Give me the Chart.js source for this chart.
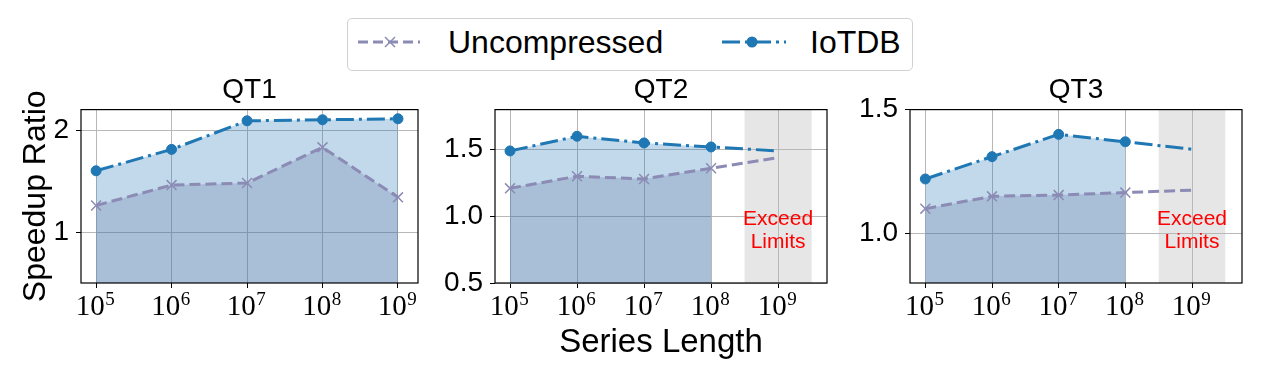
<!DOCTYPE html>
<html>
<head>
<meta charset="utf-8">
<script src="https://cdn.jsdelivr.net/npm/chart.js@4.4.0/dist/chart.umd.min.js"></script>
<style>
html,body{margin:0;padding:0;background:#fff;}
#wrap{position:relative;width:1269px;height:367px;overflow:hidden;font-family:'Liberation Sans',Arial,Helvetica,sans-serif;}
#wrap canvas{position:absolute;top:70px;}
#legend{position:absolute;left:347px;top:18px;width:564px;height:51px;border:1px solid #d2d2d2;border-radius:5px;background:#fff;}
.lt{position:absolute;top:7px;font-size:32px;line-height:32px;color:#000;white-space:nowrap;}
#sw{position:absolute;left:0;top:0;pointer-events:none;}
</style>
</head>
<body>
<div id="wrap">
  <div id="legend">
    <span class="lt" style="left:100px">Uncompressed</span>
    <span class="lt" style="left:462px">IoTDB</span>
  </div>
  <svg id="sw" width="1269" height="80">
    <line x1="358" y1="42" x2="420" y2="42" stroke="#8b8bb5" stroke-width="3" stroke-dasharray="10 5"/>
    <line x1="385" y1="37" x2="395" y2="47" stroke="#8b8bb5" stroke-width="1.5"/>
    <line x1="385" y1="47" x2="395" y2="37" stroke="#8b8bb5" stroke-width="1.5"/>
    <line x1="722" y1="42" x2="786" y2="42" stroke="#1f77b4" stroke-width="3" stroke-dasharray="18 5 3 5"/>
    <circle cx="752" cy="42" r="5.5" fill="#1f77b4"/>
  </svg>
  <canvas id="c1" width="440" height="297" style="left:0px"></canvas>
  <canvas id="c2" width="417" height="297" style="left:425px"></canvas>
  <canvas id="c3" width="429" height="297" style="left:840px"></canvas>
</div>
<script>
// ---- data ----
const xExponents = [5, 6, 7, 8, 9];           // series length = 10^n
const panelTitles = ['QT1', 'QT2', 'QT3'];
const iotdbQT1 = [1.60, 1.81, 2.09, 2.10, 2.11];
const uncompressedQT1 = [1.26, 1.46, 1.48, 1.83, 1.34];
const iotdbQT2 = [1.49, 1.60, 1.55, 1.52, 1.49];
const uncompressedQT2 = [1.21, 1.30, 1.28, 1.36, 1.44];
const iotdbQT3 = [1.22, 1.31, 1.40, 1.37, 1.34];
const uncompressedQT3 = [1.10, 1.15, 1.155, 1.165, 1.175];
const measuredCount = [5, 4, 4];              // points with markers / shaded area
const yTicksQT1 = [1, 2];
const yTicksQT2 = [0.5, 1.0, 1.5];
const yTicksQT3 = [1.0, 1.5];
const yTickDecimals = [0, 1, 1];
const xTickBase = '10';
const exceedRange = [8.5, 9.5];
const exceedText = ['Exceed', 'Limits'];

// ---- styles / layout ----
const IOT = '#1f77b4', UNC = '#8b8bb5';
const IOT_FILL = 'rgba(31,119,180,0.28)';
const UNC_FILL = 'rgba(100,110,160,0.25)';
const SANS = "'Liberation Sans', Arial, Helvetica, sans-serif";
const SERIF = "'Liberation Serif', 'DejaVu Serif', 'Times New Roman', serif";
const panels = [
  {id:'c1', iot: iotdbQT1, unc: uncompressedQT1, yTicks: yTicksQT1, yW:81, rightPad:22, xMin:4.80, xMax:9.265, yMin:0.5, yMax:2.2, band:null},
  {id:'c2', iot: iotdbQT2, unc: uncompressedQT2, yTicks: yTicksQT2, yW:70, rightPad:15, xMin:4.776, xMax:9.73, yMin:0.5, yMax:1.8, band:exceedRange},
  {id:'c3', iot: iotdbQT3, unc: uncompressedQT3, yTicks: yTicksQT3, yW:70, rightPad:27, xMin:4.77, xMax:9.75, yMin:0.8, yMax:1.5, band:exceedRange},
];
const SUP = {'0':'⁰','1':'¹','2':'²','3':'³','4':'⁴','5':'⁵','6':'⁶','7':'⁷','8':'⁸','9':'⁹'};
const supStr = n => String(n).split('').map(c => SUP[c]).join('');

const panelExtras = {
  id: 'panelExtras',
  beforeDraw(chart, args, opts) {
    if (!opts.band) return;
    const {ctx, chartArea: a, scales: {x}} = chart;
    const x0 = x.getPixelForValue(opts.band[0]), x1 = x.getPixelForValue(opts.band[1]);
    ctx.save();
    ctx.fillStyle = '#e6e6e6';
    ctx.fillRect(x0, a.top, x1 - x0, a.bottom - a.top);
    ctx.restore();
  },
  afterDatasetsDraw(chart, args, opts) {
    const {ctx, chartArea: a, scales: {x}} = chart;
    ctx.save();
    if (opts.band) {
      const cx = x.getPixelForValue(xExponents[xExponents.length - 1]);
      const cy = a.bottom - 0.303 * (a.bottom - a.top);
      ctx.fillStyle = '#ff0000';
      ctx.font = '21px ' + SANS;
      ctx.textAlign = 'center';
      ctx.textBaseline = 'middle';
      ctx.fillText(exceedText[0], cx, cy - 11.5);
      ctx.fillText(exceedText[1], cx, cy + 11.5);
    }
    ctx.strokeStyle = '#000';
    ctx.lineWidth = 1.2;
    ctx.strokeRect(a.left, a.top, a.right - a.left, a.bottom - a.top);
    ctx.restore();
  },
  // x tick labels of the library's x scale, written as 10 with a raised exponent
  afterDraw(chart) {
    const {ctx, chartArea: a, scales: {x}} = chart;
    ctx.save();
    ctx.fillStyle = '#000';
    ctx.textBaseline = 'alphabetic';
    ctx.textAlign = 'left';
    x.ticks.forEach(t => {
      const px = x.getPixelForValue(t.value);
      const exp = String(t.value);
      ctx.font = '29px ' + SERIF;
      const wb = ctx.measureText(xTickBase).width;
      ctx.font = '19px ' + SERIF;
      const we = ctx.measureText(exp).width;
      const start = px - (wb + we) / 2 - 1;
      ctx.font = '29px ' + SERIF;
      ctx.fillText(xTickBase, start, a.bottom + 32);
      ctx.font = '19px ' + SERIF;
      ctx.fillText(exp, start + wb + 0.5, a.bottom + 22);
    });
    ctx.restore();
  }
};

panels.forEach((p, i) => {
  const m = measuredCount[i];
  const pts = (vals, n) => xExponents.slice(0, n).map((e, k) => ({x: e, y: vals[k]}));
  const radii = (r) => xExponents.map((_, k) => k < m ? r : 0);
  const grid = {color: '#b8b8b8', lineWidth: 1, tickLength: 5, tickColor: '#000', tickWidth: 1};
  new Chart(document.getElementById(p.id), {
    type: 'line',
    data: {
      datasets: [
        {label: 'IoTDB area', data: pts(p.iot, m), fill: 'start', backgroundColor: IOT_FILL,
         borderColor: 'rgba(0,0,0,0)', borderWidth: 1, pointRadius: 0, order: 4},
        {label: 'Uncompressed area', data: pts(p.unc, m), fill: 'start', backgroundColor: UNC_FILL,
         borderColor: 'rgba(0,0,0,0)', borderWidth: 1, pointRadius: 0, order: 3},
        {label: 'Uncompressed', data: pts(p.unc, xExponents.length), fill: false,
         borderColor: UNC, borderWidth: 3, borderDash: [11, 5], tension: 0,
         pointStyle: 'crossRot', pointRadius: radii(7), pointBorderColor: UNC, pointBorderWidth: 1.5,
         pointBackgroundColor: UNC, order: 2},
        {label: 'IoTDB', data: pts(p.iot, xExponents.length), fill: false,
         borderColor: IOT, borderWidth: 3, borderDash: [18, 5, 3, 5], tension: 0,
         pointStyle: 'circle', pointRadius: radii(5), pointBorderColor: IOT, pointBorderWidth: 1,
         pointBackgroundColor: IOT, order: 1}
      ]
    },
    options: {
      responsive: false, animation: false, devicePixelRatio: 1, events: [],
      layout: {padding: {left: 0, right: p.rightPad, top: 0, bottom: 0}},
      font: {family: SANS},
      plugins: {
        legend: {display: false}, tooltip: {enabled: false},
        title: {display: true, text: panelTitles[i], fullSize: false, color: '#000',
                font: {family: SANS, size: 28, weight: 'normal'}, padding: {top: 3, bottom: 3}},
        panelExtras: {band: p.band}
      },
      scales: {
        x: {
          type: 'linear', min: p.xMin, max: p.xMax,
          afterBuildTicks: s => { s.ticks = xExponents.map(v => ({value: v})); },
          afterFit: s => { s.height = 84; },
          ticks: {display: false, callback: v => xTickBase + supStr(v), autoSkip: false},
          grid: grid, border: {display: false},
          title: i === 1 ? {display: true, text: 'Series Length', color: '#000',
                            font: {family: SANS, size: 33}, padding: {top: 0, bottom: 4}} : {display: false}
        },
        y: {
          min: p.yMin, max: p.yMax,
          afterBuildTicks: s => { s.ticks = p.yTicks.map(v => ({value: v})); },
          afterFit: s => { s.width = p.yW; },
          ticks: {callback: v => Number(v).toFixed(yTickDecimals[i]), color: '#000', padding: 7, autoSkip: false,
                  font: {family: SANS, size: 28}},
          grid: grid, border: {display: false},
          title: i === 0 ? {display: true, text: 'Speedup Ratio', color: '#000',
                            font: {family: SANS, size: 32}, padding: {top: 17, bottom: 0}} : {display: false}
        }
      }
    },
    plugins: [panelExtras]
  });
});
</script>
</body>
</html>
